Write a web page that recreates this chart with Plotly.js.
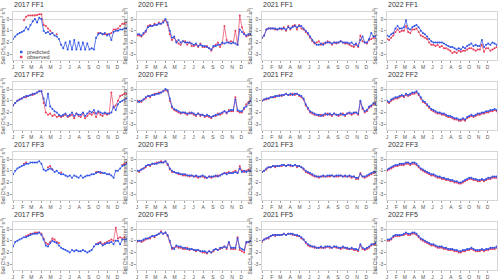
<!DOCTYPE html>
<html>
<head>
<meta charset="utf-8">
<script src="https://cdn.plot.ly/plotly-3.0.1.min.js"></script>
<style>html,body{margin:0;padding:0;background:#fff;}#chart{width:500px;height:280px;}</style>
</head>
<body>
<div id="chart"></div>
<script>
// day of year of each sample
const days = [1,8,15,22,29,36,43,50,57,64,71,78,85,92,99,106,113,120,127,134,141,148,155,162,169,176,183,190,197,204,211,218,225,232,239,246,253,260,267,274,281,288,295,302,309,316,323,330,337,344,351,358,365];
const monthTicks = [1,32,60,91,121,152,182,213,244,274,305,335];
const monthLabels = ['J','F','M','A','M','J','J','A','S','O','N','D'];
const years = ['2017','2020','2021','2022'];
const sites = ['FF1','FF2','FF3','FF5'];
const yTicks = [0,-1,-2,-3];
const yTickLabels = ['0','-1','-2','-3'];
const seriesNames = ['predicted','observed'];

// ---- FF1 ----
const pred_2017_FF1 = [-1.7,-1.5,-1.3,-1.2,-1.1, -1.0,-0.7,-0.9,-0.5, -0.2,0.0,-0.3,0.1, 0.0,-1.0,-1.2,-1.1,-1.3, -1.2,-1.4,-1.5,-1.7, -2.2,-2.5,-2.0,-2.6, -1.9,-2.6,-1.8,-2.6,-2.0, -2.6,-2.0,-2.6,-2.1, -2.6,-2.5,-2.6,-1.6, -1.3,-1.2,-1.3,-1.2,-1.4, -1.3,-1.8,-1.1,-1.0, -1.0,-0.9,-0.9,-0.8,-0.8];
const obs_2017_FF1 = [null,null,null,null,null, -0.1,0.2,0.3,0.3, 0.3,0.3,0.35,0.4, 0.4,-0.5,-0.6,-0.8,-1.0, -1.2,null,-1.3,null, null,null,null,null, null,null,null,null,null, null,null,null,null, null,null,null,null, -1.2,-1.2,-1.3,-1.3,-1.3, -1.3,-1.2,-0.9,-0.9, -0.8,-0.6,-0.4,-0.4,-0.3];
const pred_2020_FF1 = [-1.3,-1.3,-1.4,-1.2,-1.0, -0.7,-0.6,-0.6,-0.5, -0.5,-0.4,-0.4,-0.3, 0.0,-0.3,-1.0,-1.6,-1.5, -2.0,-1.8,-2.0,-1.9, -2.0,-2.0,-2.0,-2.1, -2.2,-2.1,-2.3,-2.2,-2.3, -2.3,-2.4,-2.5,-2.6, -2.3,-2.3,-2.2,-2.2, -2.0,-2.1,-2.0,-2.0,-2.1, -2.0,-2.1,-2.2,-0.9, -1.1,-1.3,-1.4,-1.3,-1.3];
const obs_2020_FF1 = [-1.4,-1.4,-1.5,-1.3,-1.1, -0.6,-0.5,-0.6,-0.4, -0.5,-0.3,-0.4,-0.2, -0.1,-0.5,-1.3,-1.8,-1.6, -1.9,-2.1,-2.2,-1.9, -1.9,-2.2,-2.0,-2.3, -2.3,-2.2,-2.4,-2.1,-2.4, -2.4,-2.3,-2.5,-2.7, -2.4,-2.2,-2.0,-2.4, -2.1,-0.6,-1.8,-2.0,-1.9, -2.0,-1.0,-2.2,0.3, -0.7,-1.2,-1.5,-1.4,-1.3];
const pred_2021_FF1 = [-1.6,-1.4,-0.9,-0.8,-0.8, -0.8,-0.8,-0.9,-0.8, -0.8,-0.8,-0.9,-0.7, -0.8,-0.7,-0.6,-0.7,-0.6, -0.6,-0.8,-1.0,-1.2, -1.5,-1.8,-2.0,-2.2, -2.2,-2.1,-2.2,-2.0,-2.0, -2.0,-2.1,-2.0,-2.0, -2.0,-1.9,-2.0,-2.0, -2.0,-2.1,-2.0,-2.2,-2.1, -2.3,-1.8,-1.5,-2.0, -2.0,-1.7,-1.2,-1.5,-1.5];
const obs_2021_FF1 = [-1.6,-1.4,-0.9,-0.8,-0.8, -0.8,-0.9,-0.9,-0.8, -0.9,-0.7,-1.0,-0.6, -0.9,-0.6,-0.5,-0.9,-0.5, -0.8,-0.9,-1.1,-1.3, -1.6,-1.9,-2.1,-2.0, -1.9,-2.2,-2.1,-2.1,-1.9, -2.0,-2.2,-2.0,-2.1, -2.0,-1.9,-2.0,-2.1, -2.1,-2.2,-2.3,-2.4,-2.2, -2.4,-1.4,-1.9,-2.0, -2.1,-1.8,-1.7,-1.6,-1.5];
const pred_2022_FF1 = [-1.4,-1.5,-1.3,-1.2,-0.8, -0.6,-0.8,-0.8,-0.7, -0.1,-0.8,-0.9,-0.7, -0.6,-0.5,-0.7,-1.0,-1.2, -1.3,-1.5,-1.7,-1.9, -2.0,-2.0,-2.0,-2.0, -2.0,-2.1,-2.2,-2.3,-2.4, -2.4,-2.5,-2.6,-2.5, -2.6,-2.4,-2.5,-2.3, -2.2,-2.1,-2.3,-2.2,-2.3, -2.3,-1.8,-2.4,-2.2, -2.1,-2.2,-2.0,-2.1,-2.2];
const obs_2022_FF1 = [-1.7,-1.8,-1.6,-1.4,-1.1, -0.9,-1.1,-1.0,-1.0, -0.6,-1.1,-1.2,-0.9, -0.9,-0.8,-1.1,-1.4,-1.5, -1.6,-1.7,-2.0,-2.2, -2.2,-2.3,-2.2,-2.4, -2.3,-2.5,-2.5,-2.6,-2.7, -2.9,-2.8,-2.9,-2.7, -2.8,-2.7,-2.7,-2.6, -2.5,-2.5,-2.6,-2.7,-2.6, -2.6,-2.2,-2.8,-2.5, -2.5,-2.7,-2.6,-2.5,-2.4];

// ---- FF2 ----
const pred_2017_FF2 = [-1.4,-1.2,-1.0,-0.9,-0.8, -0.7,-0.6,-0.6,-0.5, -0.4,-0.4,-0.3,-0.2, -0.2,-0.8,-1.4,-0.4,-1.5, -1.7,-1.9,-2.0,-2.2, -2.3,-2.2,-2.1,-2.3, -2.2,-2.0,-2.3,-2.1,-2.2, -2.2,-2.0,-2.3,-2.1, -1.9,-2.0,-1.8,-2.1, -1.9,-2.0,-2.1,-2.0,-2.1, -2.1,-2.0,-1.5,-1.8, -1.3,-1.1,-1.0,-0.9,-0.8];
const obs_2017_FF2 = [-1.4,-1.2,-1.0,-0.9,-0.8, -0.7,-0.7,-0.6,-0.5, -0.5,-0.4,-0.3,-0.2, -0.2,-1.2,-2.0,-2.2,-2.1, -2.3,-2.2,-2.4,-2.3, -2.4,-2.3,-2.2,-2.4, -2.3,-2.2,-2.5,-2.1,-2.3, -2.4,-2.1,-2.5,-2.3, -2.1,-2.2,-2.0,-2.4, -2.0,-2.2,-2.3,-2.1,-2.2, -2.1,-0.3,-1.6,-1.4, -1.0,-0.6,-0.5,-0.4,-0.4];
const pred_2020_FF2 = [-1.0,-1.1,-1.0,-0.9,-0.7, -0.6,-0.6,-0.5,-0.5, -0.4,-0.4,-0.3,-0.2, 0.0,-0.1,-0.8,-1.5,-1.7, -1.8,-1.9,-2.0,-2.0, -2.0,-2.1,-2.1,-2.0, -2.1,-2.2,-2.1,-2.2,-2.2, -2.3,-2.2,-2.3,-2.4, -2.3,-2.2,-2.2,-2.1, -2.0,-1.9,-2.0,-1.9,-1.8, -1.8,-0.9,-1.8,-1.9, -1.9,-1.6,-1.5,-1.2,-1.0];
const obs_2020_FF2 = [-1.1,-1.0,-1.1,-0.9,-0.8, -0.6,-0.7,-0.5,-0.4, -0.4,-0.3,-0.3,-0.2, -0.1,-0.2,-1.0,-1.6,-1.8, -1.9,-2.0,-2.1,-2.0, -2.1,-2.2,-2.0,-2.1, -2.2,-2.3,-2.1,-2.3,-2.2, -2.4,-2.3,-2.4,-2.5, -2.3,-2.3,-2.1,-2.2, -2.1,-1.9,-2.1,-1.8,-1.9, -1.9,-0.7,-1.9,-2.0, -2.0,-1.7,-1.3,-1.1,-1.0];
const pred_2021_FF2 = [-1.0,-0.9,-0.8,-0.8,-0.7, -0.7,-0.6,-0.6,-0.6, -0.5,-0.5,-0.4,-0.5, -0.4,-0.5,-0.4,-0.4,-0.5, -0.6,-0.8,-1.3,-1.6, -1.9,-2.0,-2.1,-2.2, -2.2,-2.3,-2.2,-2.1,-2.2, -2.1,-2.2,-2.1,-2.2, -2.2,-2.1,-2.2,-2.2, -2.1,-2.0,-2.1,-2.0,-2.0, -2.1,-1.0,-1.6,-1.9, -1.8,-1.5,-1.4,-1.2,-1.3];
const obs_2021_FF2 = [-1.0,-0.9,-0.9,-0.8,-0.7, -0.7,-0.7,-0.6,-0.5, -0.6,-0.5,-0.4,-0.5, -0.5,-0.4,-0.5,-0.4,-0.6, -0.7,-0.9,-1.4,-1.7, -2.0,-2.1,-2.2,-2.2, -2.3,-2.2,-2.3,-2.2,-2.1, -2.2,-2.3,-2.1,-2.2, -2.3,-2.2,-2.1,-2.3, -2.1,-2.1,-2.2,-2.1,-2.0, -2.2,-1.1,-1.7,-2.0, -1.9,-1.6,-1.5,-1.3,-1.2];
const pred_2022_FF2 = [-1.0,-1.1,-0.9,-0.8,-0.7, -0.7,-0.6,-0.5,-0.6, -0.4,-0.5,-0.4,-0.3, -0.3,-0.2,-0.4,-0.7,-1.0, -1.1,-1.3,-1.5,-1.7, -1.8,-1.9,-2.0,-2.0, -2.1,-2.1,-2.2,-2.3,-2.3, -2.4,-2.5,-2.5,-2.6, -2.6,-2.5,-2.6,-2.4, -2.3,-2.2,-2.3,-2.2,-2.1, -2.1,-2.0,-2.0,-1.9, -1.9,-1.8,-1.8,-1.7,-1.8];
const obs_2022_FF2 = [-1.1,-1.2,-1.0,-0.9,-0.8, -0.8,-0.7,-0.6,-0.7, -0.5,-0.6,-0.5,-0.4, -0.4,-0.3,-0.5,-0.8,-1.1, -1.2,-1.4,-1.6,-1.8, -1.9,-2.0,-2.1,-2.1, -2.2,-2.2,-2.3,-2.4,-2.4, -2.5,-2.6,-2.6,-2.7, -2.7,-2.6,-2.7,-2.5, -2.4,-2.3,-2.4,-2.3,-2.2, -2.2,-2.1,-2.1,-2.0, -2.0,-1.9,-1.9,-1.8,-1.9];

// ---- FF3 ----
const pred_2017_FF3 = [-1.3,-1.0,-0.8,-0.7,-0.6, -0.5,-0.4,-0.4,-0.3, -0.3,-0.3,-0.3,-0.2, -0.4,-0.9,-1.0,-0.9,-0.8, -0.9,-1.1,-1.0,-1.2, -1.3,-1.3,-1.4,-1.5, -1.4,-1.6,-1.4,-1.5,-1.6, -1.4,-1.6,-1.5,-1.4, -1.4,-1.3,-1.3,-1.2, -1.1,-1.1,-1.2,-1.2,-1.3, -1.3,-1.4,-1.6,-1.0, -1.0,-0.8,-0.6,-0.5,-0.4];
const obs_2017_FF3 = [null,null,null,null,null, -0.4,-0.3,null,null, null,null,null,null, null,null,null,-0.7,-0.6, -0.9,null,null,null, -1.15,null,null,null, null,null,null,null,null, null,null,null,null, null,null,null,-1.1, -1.1,-1.2,-1.2,null,null, -1.3,null,null,null, null,null,-0.5,-0.4,-0.3];
const pred_2020_FF3 = [-1.0,-1.0,-0.9,-0.8,-0.6, -0.5,-0.5,-0.4,-0.4, -0.4,-0.3,-0.3,-0.3, -0.2,-0.4,-0.8,-1.0,-1.1, -1.2,-1.2,-1.3,-1.3, -1.3,-1.4,-1.4,-1.4, -1.5,-1.4,-1.5,-1.5,-1.4, -1.5,-1.6,-1.5,-1.5, -1.5,-1.4,-1.5,-1.4, -1.3,-1.2,-1.3,-1.2,-1.2, -1.2,-1.1,-1.2,-0.8, -1.1,-1.0,-1.1,-1.0,-1.0];
const obs_2020_FF3 = [-1.0,-1.1,-0.9,-0.8,-0.7, -0.5,-0.6,-0.4,-0.4, -0.3,-0.3,-0.2,-0.3, -0.2,-0.5,-0.9,-1.1,-1.1, -1.2,-1.3,-1.3,-1.4, -1.4,-1.4,-1.5,-1.4, -1.5,-1.5,-1.6,-1.5,-1.5, -1.6,-1.6,-1.5,-1.6, -1.5,-1.5,-1.4,-1.4, -1.3,-1.2,-1.2,-1.1,-1.2, -1.1,-1.0,-1.2,-0.6, -1.0,-1.1,-1.0,-0.9,-1.0];
const pred_2021_FF3 = [-1.1,-1.0,-0.8,-0.7,-0.7, -0.6,-0.6,-0.6,-0.6, -0.5,-0.5,-0.6,-0.5, -0.5,-0.6,-0.5,-0.6,-0.6, -0.7,-0.8,-1.0,-1.1, -1.2,-1.3,-1.4,-1.5, -1.5,-1.5,-1.4,-1.5,-1.4, -1.4,-1.4,-1.5,-1.4, -1.4,-1.4,-1.5,-1.4, -1.5,-1.4,-1.5,-1.5,-1.6, -1.6,-1.3,-1.5,-1.5, -1.4,-1.3,-1.2,-1.1,-1.1];
const obs_2021_FF3 = [-1.1,-1.0,-0.9,-0.7,-0.7, -0.6,-0.7,-0.6,-0.6, -0.6,-0.5,-0.6,-0.5, -0.6,-0.6,-0.5,-0.7,-0.6, -0.7,-0.9,-1.1,-1.2, -1.3,-1.4,-1.5,-1.5, -1.6,-1.5,-1.5,-1.5,-1.5, -1.5,-1.4,-1.5,-1.5, -1.5,-1.4,-1.5,-1.5, -1.5,-1.5,-1.6,-1.5,-1.7, -1.7,-1.2,-1.5,-1.6, -1.5,-1.4,-1.3,-1.2,-1.1];
const pred_2022_FF3 = [-0.9,-0.8,-0.7,-0.6,-0.5, -0.5,-0.4,-0.4,-0.4, -0.3,-0.3,-0.4,-0.3, -0.3,-0.4,-0.6,-0.8,-0.9, -1.0,-1.1,-1.2,-1.3, -1.3,-1.4,-1.5,-1.5, -1.6,-1.6,-1.7,-1.7,-1.8, -1.8,-1.9,-1.9,-2.0, -2.0,-1.9,-1.8,-1.7, -1.6,-1.6,-1.7,-1.7,-1.8, -1.8,-1.7,-1.8,-1.7, -1.6,-1.6,-1.5,-1.5,-1.5];
const obs_2022_FF3 = [-1.0,-0.9,-0.8,-0.7,-0.6, -0.6,-0.5,-0.5,-0.5, -0.4,-0.4,-0.5,-0.4, -0.4,-0.5,-0.7,-0.9,-1.0, -1.1,-1.2,-1.3,-1.4, -1.4,-1.5,-1.6,-1.6, -1.7,-1.7,-1.8,-1.8,-1.9, -1.9,-2.0,-2.0,-2.1, -2.1,-2.0,-1.9,-1.8, -1.7,-1.7,-1.8,-1.8,-1.9, -1.9,-1.8,-1.9,-1.8, -1.7,-1.7,-1.6,-1.6,-1.6];

// ---- FF5 ----
const pred_2017_FF5 = [-1.5,-1.1,-1.0,-0.9,-0.8, -0.7,-0.7,-0.6,-0.5, -0.4,-0.4,-0.4,-0.3, -0.5,-0.9,-1.4,-1.5,-1.2, -1.0,-1.1,-1.2,-1.4, -1.6,-1.7,-1.8,-1.9, -2.0,-1.8,-1.9,-1.8,-1.9, -1.9,-1.8,-1.9,-2.0, -1.9,-1.8,-1.5,-1.3, -1.3,-1.2,-1.4,-1.3,-1.2, -1.2,-1.1,-1.3,-1.0, -1.0,-1.3,-0.9,-0.9,-0.9];
const obs_2017_FF5 = [null,null,null,null,null, null,-0.6,-0.5,-0.4, -0.4,-0.3,-0.3,-0.3, -0.4,-0.8,-1.2,-1.3,-1.1, -0.8,-0.9,-1.1,-1.2, null,null,null,null, null,null,null,null,null, null,null,null,null, null,null,null,-1.3, -1.2,-1.1,-1.3,-1.2,-1.1, -1.0,-0.9,-1.0,0.1, -0.8,-0.7,-0.8,-0.7,null];
const pred_2020_FF5 = [-1.0,-1.0,-1.0,-0.9,-0.8, -0.8,-0.7,-0.6,-0.6, -0.5,-0.4,-0.3,-0.4, -0.3,-0.5,-1.0,-1.6,-1.7, -1.4,-1.5,-1.5,-1.6, -1.6,-1.7,-1.7,-1.7, -1.8,-1.8,-1.8,-1.9,-1.9, -1.9,-2.0,-1.9,-2.0, -1.8,-1.7,-1.8,-1.6, -1.6,-1.5,-1.6,-1.1,-1.6, -1.6,-1.6,-0.8,-1.6, -1.7,-1.8,-1.1,-1.1,-1.0];
const obs_2020_FF5 = [-1.1,-1.0,-1.1,-1.0,-0.9, -0.8,-0.8,-0.6,-0.7, -0.5,-0.4,-0.2,-0.4, -0.3,-0.6,-1.1,-1.7,-1.6, -1.5,-1.6,-1.6,-1.7, -1.7,-1.6,-1.8,-1.7, -1.8,-1.9,-1.8,-1.9,-2.0, -2.0,-2.1,-1.9,-2.0, -1.9,-1.7,-1.8,-1.7, -1.6,-1.5,-1.7,-1.2,-1.7, -1.7,-1.7,-0.7,-1.8, -1.9,-2.0,-1.2,-1.1,-1.0];
const pred_2021_FF5 = [-1.0,-0.9,-0.8,-0.7,-0.6, -0.5,-0.5,-0.5,-0.5, -0.5,-0.4,-0.5,-0.4, -0.4,-0.4,-0.5,-0.5,-0.6, -0.7,-0.9,-1.1,-1.3, -1.4,-1.5,-1.5,-1.6, -1.6,-1.5,-1.6,-1.5,-1.5, -1.5,-1.6,-1.5,-1.5, -1.6,-1.6,-1.5,-1.6, -1.6,-1.7,-1.6,-1.7,-1.7, -1.8,-1.3,-1.6,-1.7, -1.6,-1.5,-1.3,-1.3,-1.2];
const obs_2021_FF5 = [-1.1,-0.9,-0.8,-0.8,-0.6, -0.5,-0.6,-0.5,-0.5, -0.5,-0.4,-0.5,-0.4, -0.4,-0.5,-0.5,-0.6,-0.6, -0.8,-0.9,-1.2,-1.4, -1.5,-1.5,-1.6,-1.6, -1.6,-1.6,-1.6,-1.6,-1.5, -1.6,-1.6,-1.5,-1.6, -1.6,-1.7,-1.6,-1.6, -1.7,-1.7,-1.7,-1.8,-1.8, -1.9,-1.4,-1.7,-1.8, -1.7,-1.6,-1.4,-1.3,-1.3];
const pred_2022_FF5 = [-0.9,-0.9,-0.8,-0.6,-0.5, -0.5,-0.5,-0.5,-0.4, -0.3,-0.4,-0.4,-0.3, -0.3,-0.4,-0.6,-0.8,-0.9, -1.0,-1.1,-1.2,-1.3, -1.3,-1.4,-1.5,-1.5, -1.5,-1.6,-1.6,-1.7,-1.7, -1.7,-1.8,-1.8,-1.9, -1.9,-1.8,-1.8,-1.7, -1.7,-1.6,-1.7,-1.8,-1.8, -1.8,-1.7,-1.8,-1.7, -1.7,-1.6,-1.6,-1.6,-1.5];
const obs_2022_FF5 = [-1.0,-1.0,-0.9,-0.7,-0.6, -0.6,-0.6,-0.5,-0.5, -0.4,-0.5,-0.5,-0.4, -0.4,-0.5,-0.7,-0.9,-1.0, -1.1,-1.2,-1.3,-1.4, -1.4,-1.5,-1.6,-1.6, -1.6,-1.7,-1.7,-1.8,-1.8, -1.8,-1.9,-1.9,-2.0, -2.0,-1.9,-1.9,-1.8, -1.8,-1.7,-1.8,-1.9,-1.9, -1.9,-1.8,-1.9,-1.8, -1.8,-1.7,-1.7,-1.7,-1.6];

const predicted = {
  '2017 FF1': pred_2017_FF1, '2020 FF1': pred_2020_FF1, '2021 FF1': pred_2021_FF1, '2022 FF1': pred_2022_FF1,
  '2017 FF2': pred_2017_FF2, '2020 FF2': pred_2020_FF2, '2021 FF2': pred_2021_FF2, '2022 FF2': pred_2022_FF2,
  '2017 FF3': pred_2017_FF3, '2020 FF3': pred_2020_FF3, '2021 FF3': pred_2021_FF3, '2022 FF3': pred_2022_FF3,
  '2017 FF5': pred_2017_FF5, '2020 FF5': pred_2020_FF5, '2021 FF5': pred_2021_FF5, '2022 FF5': pred_2022_FF5
};
const observed = {
  '2017 FF1': obs_2017_FF1, '2020 FF1': obs_2020_FF1, '2021 FF1': obs_2021_FF1, '2022 FF1': obs_2022_FF1,
  '2017 FF2': obs_2017_FF2, '2020 FF2': obs_2020_FF2, '2021 FF2': obs_2021_FF2, '2022 FF2': obs_2022_FF2,
  '2017 FF3': obs_2017_FF3, '2020 FF3': obs_2020_FF3, '2021 FF3': obs_2021_FF3, '2022 FF3': obs_2022_FF3,
  '2017 FF5': obs_2017_FF5, '2020 FF5': obs_2020_FF5, '2021 FF5': obs_2021_FF5, '2022 FF5': obs_2022_FF5
};

const W = 500, H = 280;
const colLeft = [13, 137, 262, 387];
const colRight = [127, 251, 376, 497];
const rowTop = [12, 82, 152, 222];
const rowBottom = [60, 130, 200, 270];
const BLUE = '#3355e6';
const RED = '#e8405c';
const FONT = 'Liberation Sans, Arial, sans-serif';

const data = [];
const layout = {
  width: W, height: H,
  margin: {l: 0, r: 0, t: 0, b: 0},
  paper_bgcolor: '#fff', plot_bgcolor: '#fff',
  showlegend: false,
  annotations: [],
  shapes: []
};

let k = 0;
sites.forEach((site, r) => {
  years.forEach((year, c) => {
    k += 1;
    const key = year + ' ' + site;
    const xa = 'x' + (k === 1 ? '' : k), ya = 'y' + (k === 1 ? '' : k);
    const xname = 'xaxis' + (k === 1 ? '' : k), yname = 'yaxis' + (k === 1 ? '' : k);
    layout[xname] = {
      domain: [colLeft[c] / W, colRight[c] / W], anchor: ya,
      range: [1, 366], tickvals: monthTicks, ticktext: monthLabels,
      ticks: 'outside', ticklen: 2, tickwidth: 0.6, tickcolor: '#666',
      tickfont: {size: 5, family: FONT, color: '#555'},
      showline: true, linecolor: '#bbb', linewidth: 0.6, mirror: true,
      showgrid: false, zeroline: false, fixedrange: true
    };
    layout[yname] = {
      domain: [1 - rowBottom[r] / H, 1 - rowTop[r] / H], anchor: xa,
      range: [-3.5, 0.6], tickvals: yTicks, ticktext: yTickLabels,
      ticks: 'outside', ticklen: 2, tickwidth: 0.6, tickcolor: '#666',
      tickfont: {size: 5, family: FONT, color: '#555'},
      showline: true, linecolor: '#bbb', linewidth: 0.6, mirror: true,
      showgrid: false, zeroline: true, zerolinecolor: '#d0d0d0', zerolinewidth: 0.8,
      title: {text: 'Soil CH<sub>4</sub> flux (nmol m<sup>-2</sup> s<sup>-1</sup>)',
              font: {size: 4.8, family: FONT, color: '#444'}, standoff: 1},
      fixedrange: true
    };
    data.push({
      type: 'scatter', mode: 'lines+markers', x: days, y: observed[key], xaxis: xa, yaxis: ya,
      name: seriesNames[1],
      line: {color: RED, width: 0.7}, marker: {color: RED, size: 2}, connectgaps: false,
      hoverinfo: 'skip'
    });
    data.push({
      type: 'scatter', mode: 'lines+markers', x: days, y: predicted[key], xaxis: xa, yaxis: ya,
      name: seriesNames[0],
      line: {color: BLUE, width: 0.8}, marker: {color: BLUE, size: 2}, connectgaps: false,
      hoverinfo: 'skip'
    });
    layout.annotations.push({
      text: key, xref: 'paper', yref: 'paper', x: (colLeft[c] - 1) / W, y: 1 - (rowTop[r] - 2) / H,
      xanchor: 'left', yanchor: 'bottom', showarrow: false,
      font: {size: 7, family: FONT, color: '#333'}
    });
  });
});

// manual legend inside first panel (bottom-left)
const legendColors = [BLUE, RED];
const legendRows = [52, 57];
seriesNames.forEach((nm, i) => {
  const cy = legendRows[i];
  layout.shapes.push({type: 'rect', xref: 'paper', yref: 'paper',
    x0: 20 / W, x1: 22.5 / W, y0: 1 - (cy + 1.2) / H, y1: 1 - (cy - 1.2) / H,
    fillcolor: legendColors[i], line: {width: 0}});
  layout.annotations.push({text: nm, xref: 'paper', yref: 'paper', x: 24.5 / W, y: 1 - cy / H,
    xanchor: 'left', yanchor: 'middle', showarrow: false,
    font: {size: 5.5, family: FONT, color: '#444'}});
});

Plotly.newPlot('chart', data, layout, {staticPlot: true, displayModeBar: false});
</script>
</body>
</html>
